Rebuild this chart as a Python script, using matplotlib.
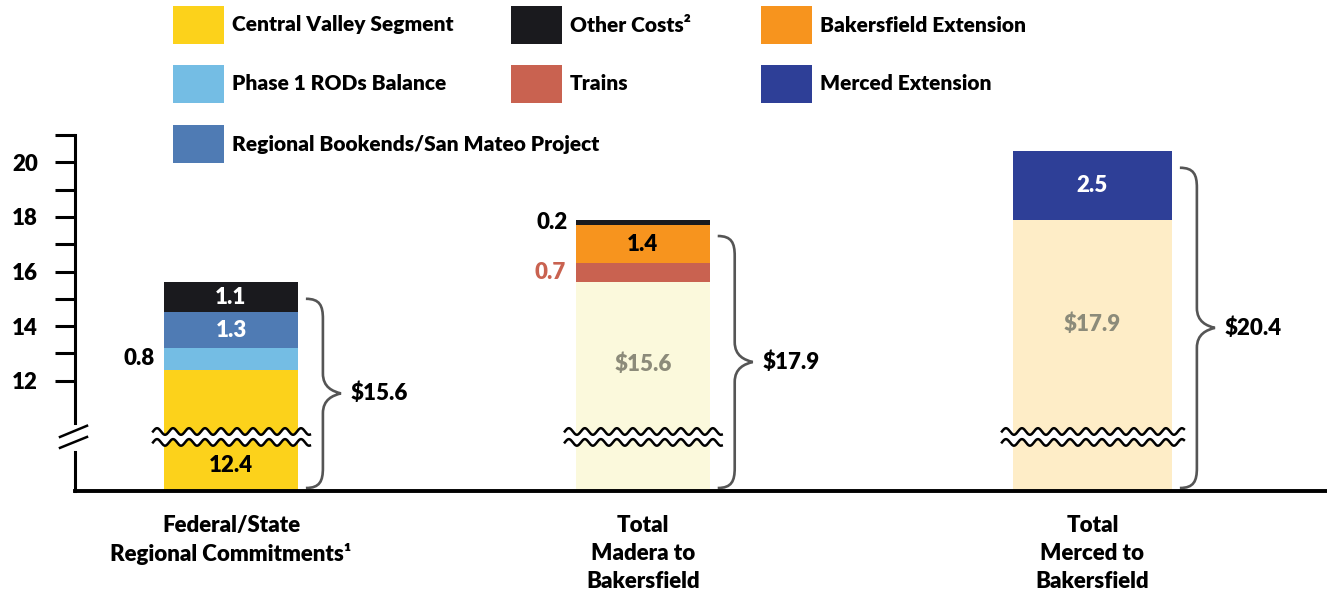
import matplotlib
matplotlib.use("Agg")
import matplotlib.pyplot as plt
import numpy as np
from matplotlib.path import Path
from matplotlib.patches import PathPatch, Rectangle

plt.rcParams['font.family'] = ['Lato', 'DejaVu Sans']
plt.rcParams['font.weight'] = 'heavy'

# ---- data (billions of $) ----
categories = ["Federal/State\nRegional Commitments\u00b9",
              "Total\nMadera to\nBakersfield",
              "Total\nMerced to\nBakersfield"]
prior_total = [0.0, 15.6, 17.9]
central_valley = [12.4, 0.0, 0.0]
phase1_rods = [0.8, 0.0, 0.0]
regional_bookends = [1.3, 0.0, 0.0]
trains = [0.0, 0.7, 0.0]
bakersfield_ext = [0.0, 1.4, 0.0]
other_costs = [1.1, 0.2, 0.0]
merced_ext = [0.0, 0.0, 2.5]
totals = [15.6, 17.9, 20.4]
y_ticks = [12, 14, 16, 18, 20]

# ---- colours ----
c_cv = '#fcd21b'
c_rods = '#74bde4'
c_reg = '#4f7bb4'
c_trains = '#c96250'
c_bak = '#f7941e'
c_other = '#1a1a1e'
c_merced = '#2e3f97'
c_prior = ['#ffffff', '#fbf9dc', '#feedc7']
c_gray = '#8c8b7a'
c_brace = '#555555'

W, H = 1327, 594
fig = plt.figure(figsize=(W / 100, H / 100), dpi=100)
ax = fig.add_axes([75 / W, 103 / H, 1252 / W, 356 / H])

x = np.array([0.0, 0.969, 2.027])
widths = np.array([0.315, 0.315, 0.374])
ax.set_xlim(-0.367, 2.579)
ax.set_ylim(7.96, 21.0)
px_x = (2.579 + 0.367) / 1252
px_y = (21.0 - 7.96) / 356

stack = [
    (prior_total, c_prior),
    (central_valley, c_cv),
    (phase1_rods, c_rods),
    (regional_bookends, c_reg),
    (trains, c_trains),
    (bakersfield_ext, c_bak),
    (other_costs, c_other),
    (merced_ext, c_merced),
]
bottom = np.zeros(3)
mids = []
for vals, col in stack:
    vals = np.array(vals)
    ax.bar(x, vals, widths, bottom=bottom, color=col, linewidth=0, zorder=2)
    mids.append(bottom + vals / 2)
    bottom = bottom + vals
mid = dict(zip(['prior', 'cv', 'rods', 'reg', 'trains', 'bak', 'other', 'merced'], mids))

# ---- axes styling ----
for s in ['top', 'right']:
    ax.spines[s].set_visible(False)
ax.spines['left'].set_linewidth(2.2)
ax.spines['bottom'].set_linewidth(2.8)
ax.spines['left'].set_zorder(5)
ax.spines['bottom'].set_zorder(5)
ax.set_yticks(y_ticks)
ax.set_yticks([13, 15, 17, 19, 21], minor=True)
ax.tick_params(axis='y', which='both', direction='out', length=14.5, width=2.2)
ax.tick_params(axis='y', which='major', labelsize=16, pad=12)
ax.set_xticks(x)
ax.set_xticklabels(categories, fontsize=16, linespacing=1.42, va='top')
ax.tick_params(axis='x', length=0, pad=17)

# y-axis break
ax.plot([0, 0], [9.58, 10.28], color='white', lw=5, transform=ax.get_yaxis_transform(),
        clip_on=False, zorder=6)
for y_a, y_b in [(9.94, 10.35), (9.54, 9.94)]:
    ax.plot([-15 / 1252, 12 / 1252], [y_a, y_b], color='black', lw=1.8,
            transform=ax.get_yaxis_transform(), clip_on=False, zorder=7)

# wavy break across bars
for xc, w in zip(x, widths):
    xl = xc - w / 2 - 11 * px_x
    xr = xc + w / 2 + 12 * px_x
    xs = np.linspace(xl, xr, 400)
    wave = 3.3 * px_y * np.sin(2 * np.pi * (xs - xl) / (16 * px_x))
    ax.fill_between(xs, 9.74 + wave, 10.14 + wave, color='white', lw=0, zorder=3)
    ax.plot(xs, 10.14 + wave, color='black', lw=1.8, zorder=4)
    ax.plot(xs, 9.74 + wave, color='black', lw=1.8, zorder=4)


# curly braces
def brace(x0, y0, y1):
    xe = x0 + 8 * px_x
    xb = x0 + 25 * px_x
    xt = x0 + 43 * px_x
    ym = (y0 + y1) / 2
    h = 20 * px_y
    verts = [(xe, y1),
             (xb - 3 * px_x, y1), (xb, y1 - h * 0.35), (xb, y1 - h),
             (xb, ym + h),
             (xb, ym + h * 0.3), (xt - 8 * px_x, ym + 2 * px_y), (xt, ym),
             (xt - 8 * px_x, ym - 2 * px_y), (xb, ym - h * 0.3), (xb, ym - h),
             (xb, y0 + h),
             (xb, y0 + h * 0.35), (xb - 3 * px_x, y0), (xe, y0)]
    codes = [Path.MOVETO] + [Path.CURVE4] * 3 + [Path.LINETO] + [Path.CURVE4] * 6 + \
            [Path.LINETO] + [Path.CURVE4] * 3
    ax.add_patch(PathPatch(Path(verts, codes), fill=False, edgecolor=c_brace,
                           lw=1.9, zorder=4, clip_on=False))
    return xt, ym


for xc, w, tot in zip(x, widths, totals):
    xt, ym = brace(xc + w / 2, 7.96 + 3 * px_y, tot - 0.6)
    ax.text(xt + 10 * px_x, ym, f"${tot}", ha='left', va='center', fontsize=16, color='black')

# ---- value labels ----
fs = 16
left1 = x[0] - widths[0] / 2
left2 = x[1] - widths[1] / 2
ax.text(x[0], 8.88, f"{central_valley[0]}", ha='center', va='center', fontsize=fs, color='black', zorder=6)
ax.text(left1 - 9 * px_x, mid['rods'][0], f"{phase1_rods[0]}", ha='right', va='center', fontsize=fs)
ax.text(x[0], mid['reg'][0], f"{regional_bookends[0]}", ha='center', va='center', fontsize=fs, color='white')
ax.text(x[0], mid['other'][0], f"{other_costs[0]}", ha='center', va='center', fontsize=fs, color='white')

ax.text(x[1], 12.59, f"${prior_total[1]}", ha='center', va='center', fontsize=fs, color=c_gray)
ax.text(left2 - 10 * px_x, mid['trains'][1], f"{trains[1]}", ha='right', va='center', fontsize=fs, color=c_trains)
ax.text(x[1], mid['bak'][1], f"{bakersfield_ext[1]}", ha='center', va='center', fontsize=fs, color='black')
ax.text(left2 - 8 * px_x, mid['other'][1], f"{other_costs[1]}", ha='right', va='center', fontsize=fs)

ax.text(x[2], 14.06, f"${prior_total[2]}", ha='center', va='center', fontsize=fs, color=c_gray)
ax.text(x[2], mid['merced'][2], f"{merced_ext[2]}", ha='center', va='center', fontsize=fs, color='white')

# ---- legend (drawn manually) ----
legend_labels = [["Central Valley Segment", "Phase 1 RODs Balance", "Regional Bookends/San Mateo Project"],
                 ["Other Costs\u00b2", "Trains"],
                 ["Bakersfield Extension", "Merced Extension"]]
legend_colors = [[c_cv, c_rods, c_reg], [c_other, c_trains], [c_bak, c_merced]]
col_x = [173, 511, 761]
row_y = [6, 65, 125]
for ci, (labs, cols) in enumerate(zip(legend_labels, legend_colors)):
    for ri, (lab, col) in enumerate(zip(labs, cols)):
        x0, y0 = col_x[ci], row_y[ri]
        fig.add_artist(Rectangle((x0 / W, 1 - (y0 + 38) / H), 51 / W, 38 / H,
                                 transform=fig.transFigure, color=col, lw=0))
        fig.text((x0 + 59) / W, 1 - (y0 + 19) / H, lab, ha='left', va='center',
                 fontsize=15, color='black')

fig.savefig('out.png', dpi=100)
